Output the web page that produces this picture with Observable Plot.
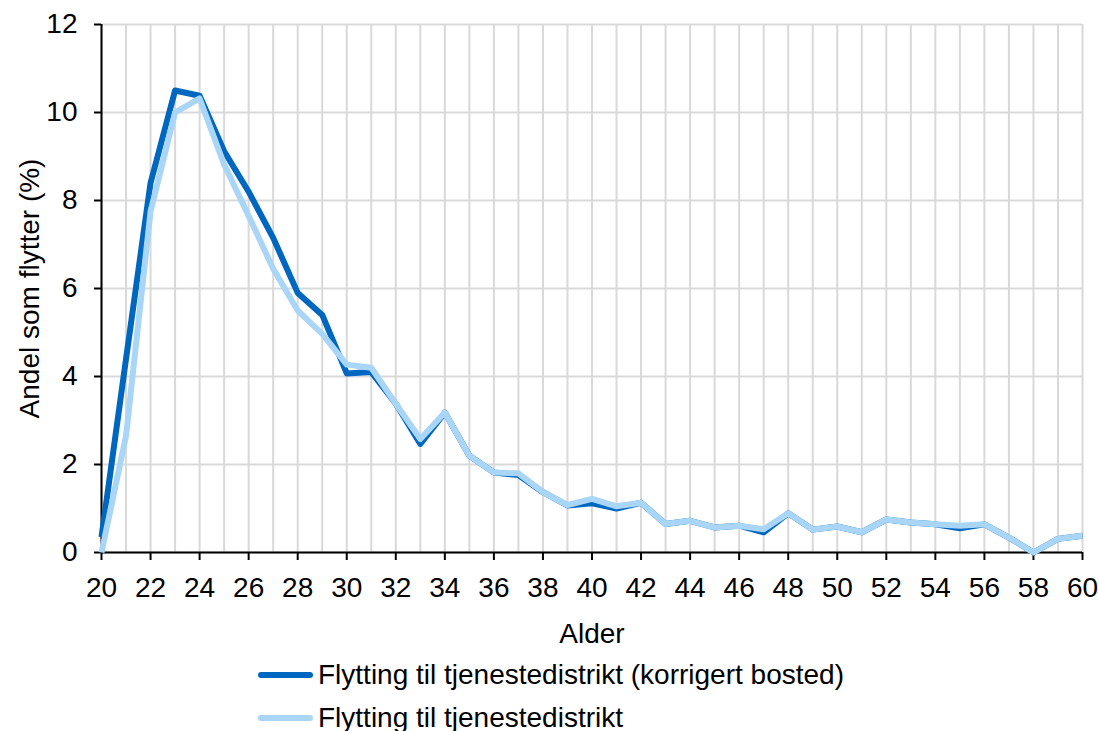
<!DOCTYPE html>
<html>
<head>
<meta charset="utf-8">
<script src="https://cdn.jsdelivr.net/npm/d3@7"></script>
<script src="https://cdn.jsdelivr.net/npm/@observablehq/plot@0.6"></script>
<style>
  html, body { margin: 0; padding: 0; background: #fff; }
  #chart svg { display: block; }
  .legend { font-family: "Liberation Sans", Arial, sans-serif; font-size: 28px; color: #000; padding-left: 258px; }
  .legend .row { display: flex; align-items: center; height: 43px; }
  .legend .sw { width: 55px; height: 6px; border-radius: 3px; margin-right: 5px; }
</style>
</head>
<body>
<div id="chart"></div>
<div class="legend">
  <div class="row"><div class="sw" style="background:#0067C0"></div><span>Flytting til tjenestedistrikt (korrigert bosted)</span></div>
  <div class="row"><div class="sw" style="background:#A9D6F7"></div><span>Flytting til tjenestedistrikt</span></div>
</div>
<script>
const ages = [20,21,22,23,24,25,26,27,28,29,30,31,32,33,34,35,36,37,38,39,40,41,42,43,44,45,46,47,48,49,50,51,52,53,54,55,56,57,58,59,60];
const korrigert = [0.35,4.4,8.4,10.5,10.38,9.12,8.2,7.15,5.9,5.4,4.07,4.1,3.38,2.47,3.18,2.2,1.82,1.76,1.37,1.07,1.12,1.0,1.13,0.65,0.72,0.57,0.61,0.46,0.89,0.52,0.59,0.46,0.75,0.68,0.64,0.55,0.64,0.34,0.0,0.31,0.38];
const vanlig = [0.0,2.65,7.75,10.0,10.32,8.82,7.65,6.45,5.5,4.97,4.27,4.2,3.38,2.58,3.18,2.2,1.82,1.8,1.37,1.08,1.22,1.05,1.13,0.65,0.72,0.57,0.61,0.53,0.89,0.52,0.59,0.46,0.75,0.68,0.64,0.61,0.64,0.34,0.0,0.31,0.38];
const xTicks = [20,22,24,26,28,30,32,34,36,38,40,42,44,46,48,50,52,54,56,58,60];
const yTicks = [0,2,4,6,8,10,12];
const series1 = ages.map((a, i) => ({age: a, v: korrigert[i]}));
const series2 = ages.map((a, i) => ({age: a, v: vanlig[i]}));

const chart = Plot.plot({
  width: 1099,
  height: 653,
  marginLeft: 101,
  marginRight: 17,
  marginTop: 24,
  marginBottom: 101,
  style: {fontFamily: '"Liberation Sans", Arial, sans-serif', fontSize: "28px", color: "#000", background: "#fff"},
  x: {domain: [20, 60]},
  y: {domain: [0, 12]},
  marks: [
    Plot.ruleX(ages, {stroke: "#D9D9D9", strokeWidth: 2}),
    Plot.ruleY(yTicks, {stroke: "#D9D9D9", strokeWidth: 2}),
    Plot.ruleX([20], {stroke: "#000", strokeWidth: 2}),
    Plot.ruleY([0], {stroke: "#000", strokeWidth: 2}),
    Plot.axisX({ticks: xTicks, tickSize: 8, tickPadding: 17, tickFormat: d => String(d), label: null, fontSize: 28, stroke: "#000", strokeWidth: 2}),
    Plot.axisY({ticks: yTicks, tickSize: 7, tickPadding: 17, tickFormat: d => String(d), label: null, fontSize: 28, stroke: "#000", strokeWidth: 2}),
    Plot.line(series1, {x: "age", y: "v", stroke: "#0067C0", strokeWidth: 6, strokeLinejoin: "round", strokeLinecap: "butt"}),
    Plot.line(series2, {x: "age", y: "v", stroke: "#A9D6F7", strokeWidth: 6, strokeLinejoin: "round", strokeLinecap: "butt"}),
    Plot.text(["Alder"], {frameAnchor: "bottom", dy: 90, fontSize: 28, fill: "#000"}),
    Plot.text(["Andel som flytter (%)"], {frameAnchor: "left", textAnchor: "middle", dx: -71, rotate: -90, fontSize: 28, fill: "#000"})
  ]
});
document.getElementById("chart").appendChild(chart);
</script>
</body>
</html>
